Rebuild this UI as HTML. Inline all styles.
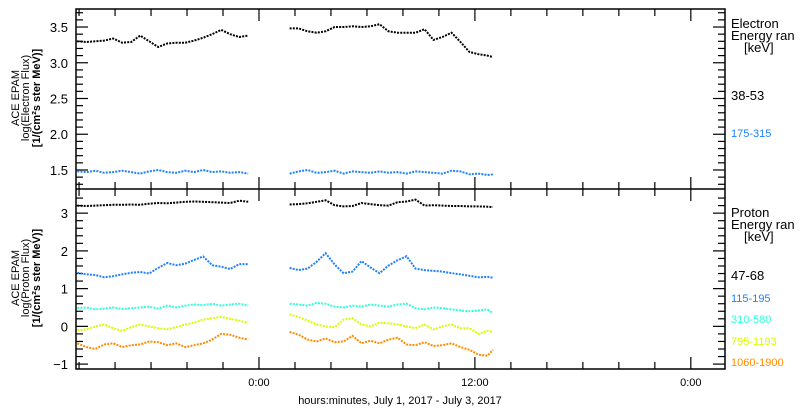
<!DOCTYPE html>
<html><head><meta charset="utf-8"><style>
body{margin:0;background:#fff;}
svg{display:block;font-family:"Liberation Sans","DejaVu Sans",sans-serif;}
</style></head><body>
<svg id="chart" width="800" height="410" viewBox="0 0 800 410" xmlns="http://www.w3.org/2000/svg">
<rect width="800" height="410" fill="#fff"/>
<g id="axes"></g>
<g id="series"></g>
<g font-size="11" text-anchor="middle">
<text transform="translate(19,98) rotate(-90)">ACE EPAM</text>
<text transform="translate(29,98) rotate(-90)">log(Electron Flux)</text>
<text transform="translate(40,98) rotate(-90)" font-weight="bold">[1/(cm²s ster MeV)]</text>
</g>
<g font-size="11" text-anchor="middle">
<text transform="translate(19,278) rotate(-90)">ACE EPAM</text>
<text transform="translate(29,278) rotate(-90)">log(Proton Flux)</text>
<text transform="translate(40,278) rotate(-90)" font-weight="bold">[1/(cm²s ster MeV)]</text>
</g>
<text x="400" y="404" font-size="11" text-anchor="middle">hours:minutes, July  1, 2017 - July  3, 2017</text>
<g font-size="13">
<text x="731" y="28">Electron</text>
<text x="731" y="40">Energy ran</text>
<text x="744" y="52">[keV]</text>
<text x="731" y="100" font-size="13">38-53</text>
<text x="731" y="137" font-size="11" fill="#1e82ff">175-315</text>
</g>
<g font-size="13">
<text x="731" y="217">Proton</text>
<text x="731" y="229">Energy ran</text>
<text x="744" y="241">[keV]</text>
<text x="731" y="280">47-68</text>
<text x="731" y="302" font-size="11" fill="#1e82ff">115-195</text>
<text x="731" y="323" font-size="11" fill="#30ffd8">310-580</text>
<text x="731" y="345" font-size="11" fill="#d4ff00">795-1193</text>
<text x="731" y="366" font-size="11" fill="#ff8c00">1060-1900</text>
</g>
</svg>
<script>
// time (hours relative to 0:00 July 2)
const seg1Times = [-10.1,-9.6,-9.1,-8.6,-8.1,-7.6,-7.1,-6.6,-6.1,-5.6,-5.1,-4.6,-4.1,-3.6,-3.1,-2.6,-2.1,-1.6,-1.1,-0.6];
const seg2Times = [1.7,2.2,2.7,3.2,3.7,4.2,4.7,5.2,5.7,6.2,6.7,7.2,7.7,8.2,8.7,9.2,9.7,10.2,10.7,11.2,11.7,12.2,12.7,13.0];
const e38_seg1 = [3.30,3.29,3.30,3.31,3.34,3.28,3.29,3.38,3.30,3.22,3.27,3.28,3.28,3.31,3.35,3.40,3.46,3.40,3.36,3.38];
const e38_seg2 = [3.48,3.48,3.44,3.42,3.44,3.50,3.50,3.51,3.50,3.51,3.54,3.44,3.42,3.42,3.42,3.47,3.32,3.36,3.42,3.29,3.15,3.12,3.10,3.08];
const e175_seg1 = [1.48,1.47,1.49,1.46,1.47,1.49,1.47,1.45,1.48,1.50,1.47,1.46,1.49,1.47,1.50,1.47,1.48,1.46,1.47,1.45];
const e175_seg2 = [1.45,1.48,1.50,1.46,1.47,1.49,1.45,1.48,1.47,1.46,1.48,1.46,1.47,1.45,1.48,1.47,1.46,1.45,1.49,1.48,1.44,1.45,1.43,1.44];
const p47_seg1 = [3.20,3.19,3.20,3.21,3.22,3.22,3.23,3.22,3.25,3.27,3.26,3.28,3.30,3.31,3.30,3.29,3.28,3.27,3.33,3.30];
const p47_seg2 = [3.23,3.24,3.26,3.30,3.34,3.21,3.18,3.19,3.27,3.24,3.21,3.20,3.29,3.31,3.36,3.20,3.21,3.20,3.19,3.19,3.18,3.18,3.17,3.16];
const p115_seg1 = [1.42,1.38,1.36,1.30,1.33,1.38,1.42,1.44,1.40,1.55,1.68,1.62,1.66,1.76,1.85,1.62,1.58,1.52,1.65,1.65];
const p115_seg2 = [1.55,1.49,1.53,1.71,1.94,1.64,1.41,1.45,1.73,1.56,1.41,1.61,1.75,1.86,1.53,1.49,1.47,1.45,1.41,1.38,1.34,1.30,1.31,1.29];
const p310_seg1 = [0.48,0.50,0.45,0.47,0.50,0.46,0.48,0.50,0.52,0.47,0.55,0.50,0.55,0.58,0.56,0.60,0.55,0.58,0.60,0.55];
const p310_seg2 = [0.60,0.58,0.55,0.62,0.60,0.52,0.50,0.55,0.52,0.58,0.55,0.52,0.58,0.60,0.48,0.45,0.50,0.48,0.45,0.42,0.40,0.42,0.45,0.35];
const p795_seg1 = [-0.10,-0.08,0.00,0.05,-0.05,-0.12,-0.02,0.05,0.00,-0.05,-0.08,-0.02,0.05,0.10,0.18,0.22,0.25,0.20,0.15,0.10];
const p795_seg2 = [0.32,0.25,0.15,0.05,0.00,-0.02,0.18,0.22,0.05,0.00,0.10,0.08,0.05,0.00,-0.05,0.05,-0.08,0.00,0.05,-0.05,-0.05,-0.20,-0.12,-0.15];
const p1060_seg1 = [-0.45,-0.55,-0.60,-0.48,-0.45,-0.55,-0.50,-0.48,-0.40,-0.42,-0.50,-0.45,-0.55,-0.50,-0.45,-0.35,-0.20,-0.22,-0.30,-0.35];
const p1060_seg2 = [-0.15,-0.22,-0.35,-0.40,-0.32,-0.42,-0.40,-0.25,-0.45,-0.38,-0.45,-0.35,-0.30,-0.48,-0.50,-0.42,-0.52,-0.50,-0.45,-0.55,-0.62,-0.75,-0.78,-0.62];
const upperTickLabels = ["1.5","2.0","2.5","3.0","3.5"];
const lowerTickLabels = ["-1","0","1","2","3"];
const xTickLabels = ["0:00","12:00","0:00"];

const NS="http://www.w3.org/2000/svg";
const L=76,R=725,T1=9,B1=189,T2=189,B2=369;
const tMin=-10.17,tMax=25.9;
function xs(t){return L+(t-tMin)/(tMax-tMin)*(R-L);}
const up={min:1.234,max:3.752};
const lo={min:-1.13,max:3.64};
function yU(v){return B1-(v-up.min)/(up.max-up.min)*(B1-T1);}
function yL(v){return B2-(v-lo.min)/(lo.max-lo.min)*(B2-T2);}
function mk(tag,attrs,parent){const e=document.createElementNS(NS,tag);for(const k in attrs)e.setAttribute(k,attrs[k]);parent.appendChild(e);return e;}
const ax=document.getElementById('axes');
const frame=mk('rect',{x:L,y:T1,width:R-L,height:B2-T1,fill:'none',stroke:'#000','stroke-width':1.5},ax);


const mid=mk('line',{x1:L,x2:R,y1:B1,y2:B1,stroke:'#000','stroke-width':1.5},ax);


// upper y ticks
for(let i=0;i<=25;i++){const v=1.3+i*0.1;if(v>3.75)break;const y=yU(v);const major=Math.abs((v*2)-Math.round(v*2))<1e-6;
 mk('line',{x1:L,x2:L+(major?12:7),y1:y,y2:y,stroke:'#000','stroke-width':1.2},ax);
 mk('line',{x1:R,x2:R-(major?12:7),y1:y,y2:y,stroke:'#000','stroke-width':1.2},ax);}
upperTickLabels.forEach(s=>{const t=mk('text',{x:L-8,y:yU(parseFloat(s))+5,'font-size':13,'text-anchor':'end'},ax);t.textContent=s;
 
 });
// lower y ticks
for(let i=0;i<=24;i++){const v=-1.0+i*0.2;if(v>3.6)break;const y=yL(v);const major=Math.abs(v-Math.round(v))<1e-6;
 mk('line',{x1:L,x2:L+(major?12:7),y1:y,y2:y,stroke:'#000','stroke-width':1.2},ax);
 mk('line',{x1:R,x2:R-(major?12:7),y1:y,y2:y,stroke:'#000','stroke-width':1.2},ax);}
lowerTickLabels.forEach(s=>{const t=mk('text',{x:L-8,y:yL(parseFloat(s))+5,'font-size':13,'text-anchor':'end'},ax);t.textContent=s.replace('-','\u2212');
 
 });
// x ticks
for(let h=-10;h<=25;h+=2){const x=xs(h);const major=(h%12===0);
 [[B2,-1],[B1,-1],[T1,1],[T2,1]].forEach(([y0,d])=>mk('line',{x1:x,x2:x,y1:y0,y2:y0+d*(major?12:7),stroke:'#000','stroke-width':1.2},ax));}
[0,12,24].forEach((h,i)=>{const t=mk('text',{x:xs(h),y:386,'font-size':11,'text-anchor':'middle'},ax);t.textContent=xTickLabels[i];
 
 });
// series
const sg=document.getElementById('series');
function draw(name,times,vals,yf,color){
 const pts=times.map((t,i)=>xs(t).toFixed(1)+','+yf(vals[i]).toFixed(1)).join(' ');
 const p=mk('polyline',{points:pts,fill:'none',stroke:color,'stroke-width':2,'stroke-dasharray':'2 1.2'},sg);
 
 
}
const defs=[
 ['electron-38-53',e38_seg1,e38_seg2,yU,'#000'],
 ['electron-175-315',e175_seg1,e175_seg2,yU,'#1e82ff'],
 ['proton-47-68',p47_seg1,p47_seg2,yL,'#000'],
 ['proton-115-195',p115_seg1,p115_seg2,yL,'#1e82ff'],
 ['proton-310-580',p310_seg1,p310_seg2,yL,'#30ffd8'],
 ['proton-795-1193',p795_seg1,p795_seg2,yL,'#d4ff00'],
 ['proton-1060-1900',p1060_seg1,p1060_seg2,yL,'#ff8c00']];
defs.forEach(d=>{draw(d[0]+'-seg1',seg1Times,d[1],d[3],d[4]);draw(d[0]+'-seg2',seg2Times,d[2],d[3],d[4]);});
</script>
</body></html>
